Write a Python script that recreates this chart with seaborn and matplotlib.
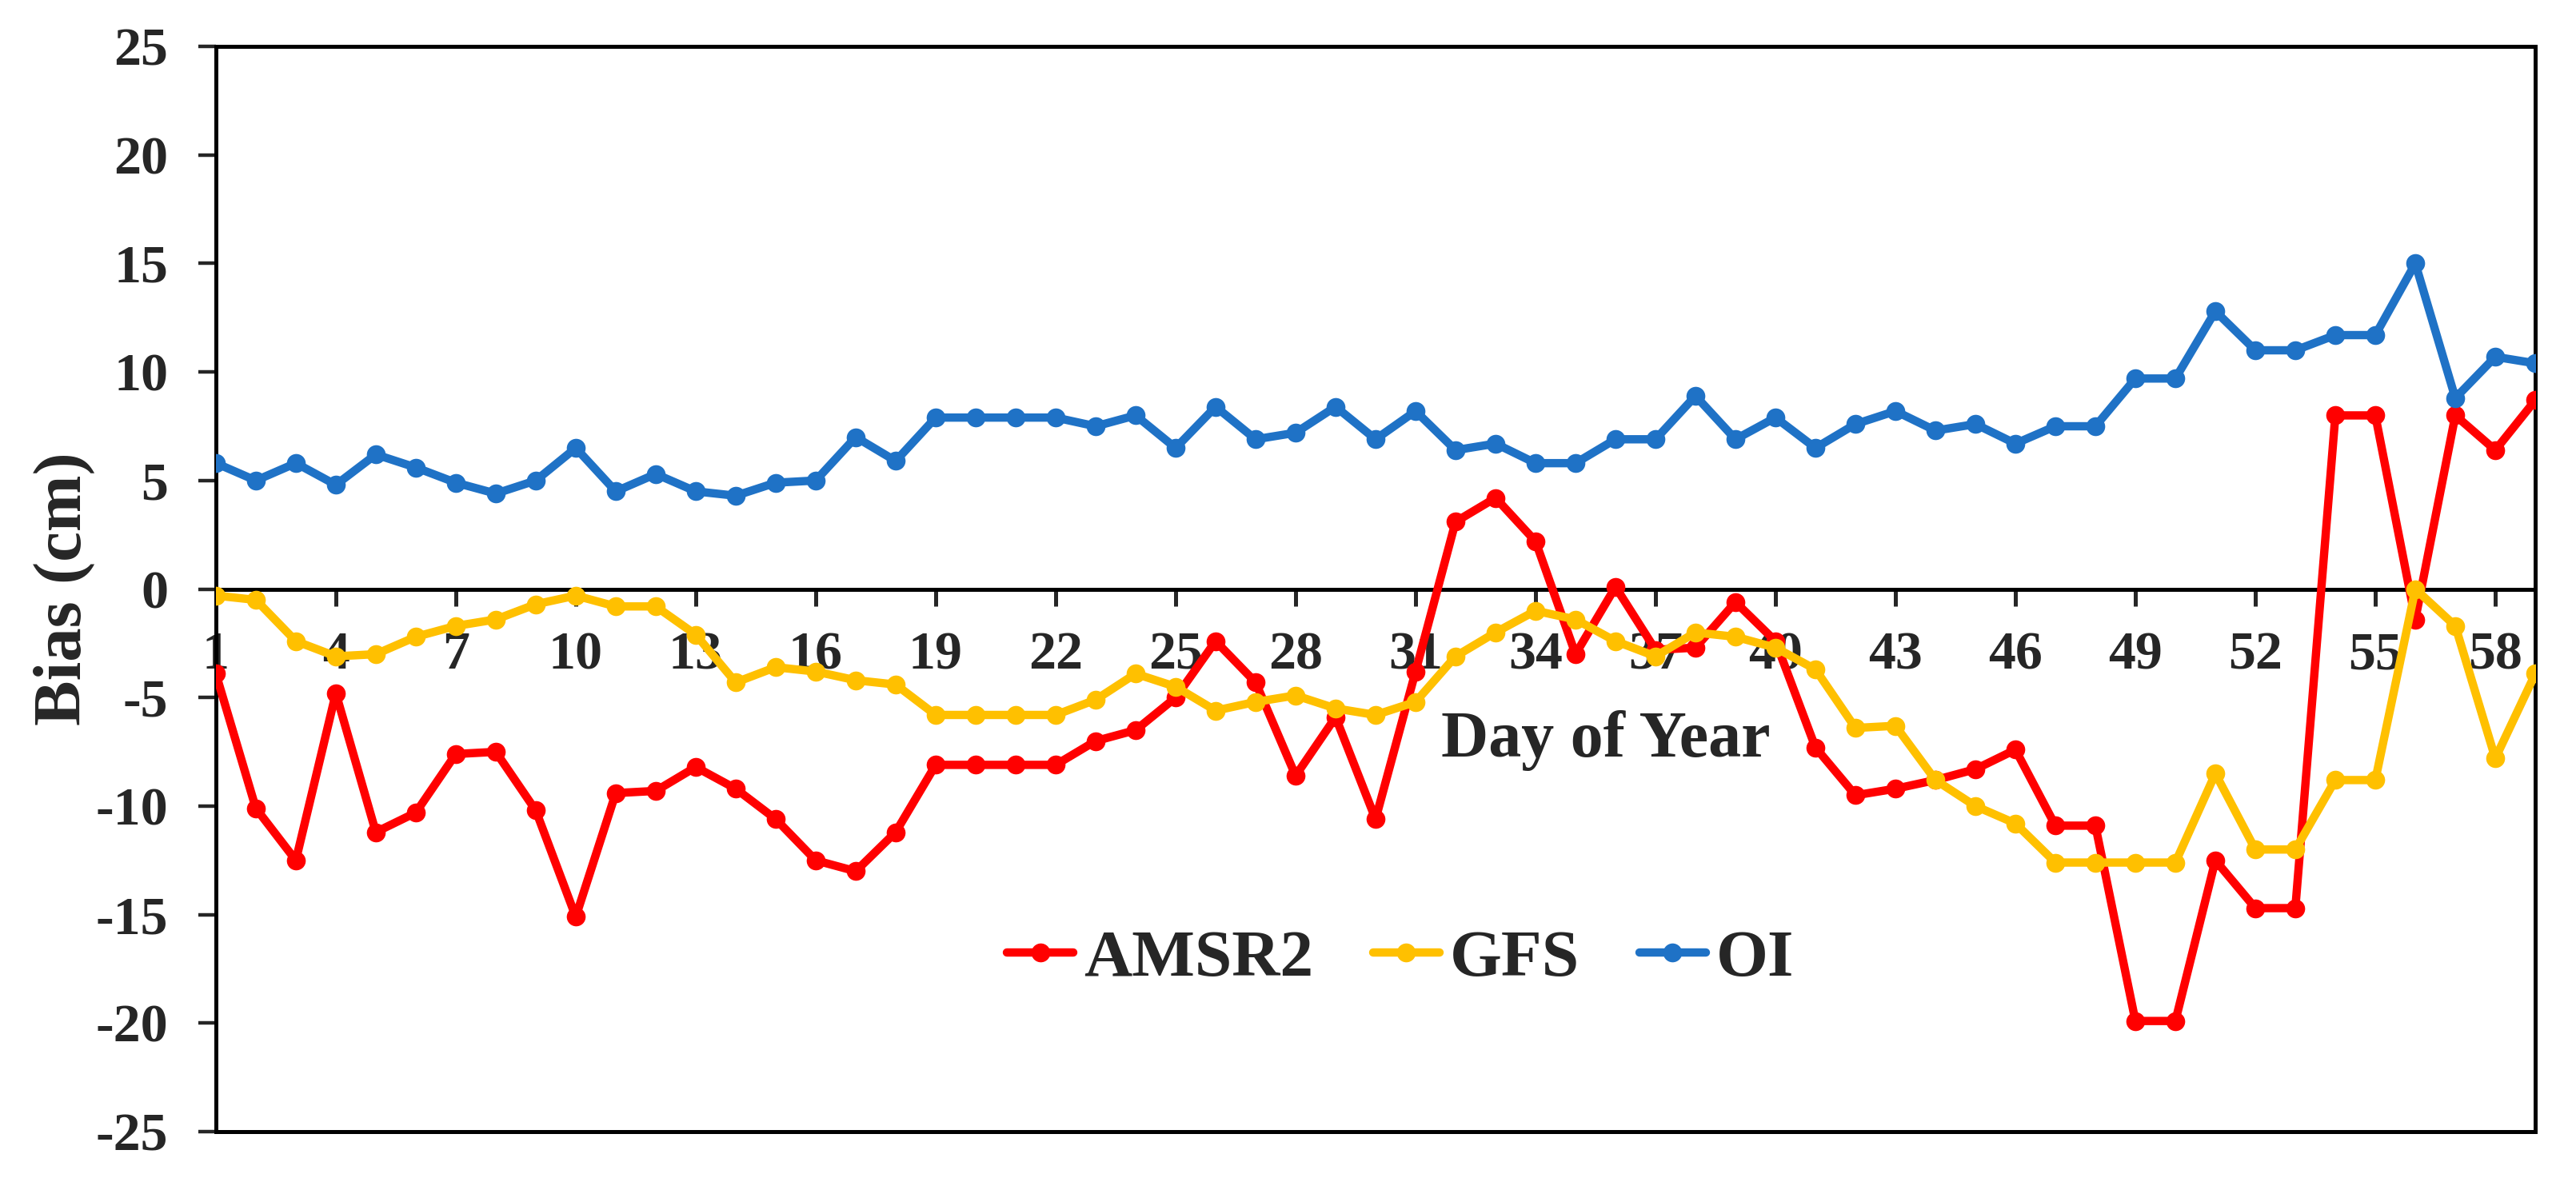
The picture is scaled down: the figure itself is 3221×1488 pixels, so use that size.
import numpy as np
import pandas as pd
import seaborn as sns
import matplotlib.pyplot as plt

# Bias per day of year
days = list(range(1, 60))

amsr2 = [-3.9, -10.1, -12.5, -4.8, -11.2, -10.3, -7.6, -7.5, -10.2, -15.1, -9.4, -9.3,
         -8.2, -9.2, -10.6, -12.5, -13.0, -11.2, -8.1, -8.1, -8.1, -8.1, -7.0, -6.5,
         -5.0, -2.4, -4.3, -8.6, -5.9, -10.6, -3.8, 3.1, 4.2, 2.2, -3.0, 0.1,
         -2.8, -2.7, -0.6, -2.4, -7.3, -9.5, -9.2, -8.8, -8.3, -7.4, -10.9, -10.9,
         -19.9, -19.9, -12.5, -14.7, -14.7, 8.0, 8.0, -1.4, 8.0, 6.4, 8.7]

gfs = [-0.3, -0.5, -2.4, -3.1, -3.0, -2.2, -1.7, -1.4, -0.7, -0.3, -0.8, -0.8,
       -2.1, -4.3, -3.6, -3.8, -4.2, -4.4, -5.8, -5.8, -5.8, -5.8, -5.1, -3.9,
       -4.5, -5.6, -5.2, -4.9, -5.5, -5.8, -5.2, -3.1, -2.0, -1.0, -1.4, -2.4,
       -3.1, -2.0, -2.2, -2.7, -3.7, -6.4, -6.3, -8.8, -10.0, -10.8, -12.6, -12.6,
       -12.6, -12.6, -8.5, -12.0, -12.0, -8.8, -8.8, 0.0, -1.7, -7.8, -3.9]

oi = [5.8, 5.0, 5.8, 4.8, 6.2, 5.6, 4.9, 4.4, 5.0, 6.5, 4.5, 5.3,
      4.5, 4.3, 4.9, 5.0, 7.0, 5.9, 7.9, 7.9, 7.9, 7.9, 7.5, 8.0,
      6.5, 8.4, 6.9, 7.2, 8.4, 6.9, 8.2, 6.4, 6.7, 5.8, 5.8, 6.9,
      6.9, 8.9, 6.9, 7.9, 6.5, 7.6, 8.2, 7.3, 7.6, 6.7, 7.5, 7.5,
      9.7, 9.7, 12.8, 11.0, 11.0, 11.7, 11.7, 15.0, 8.8, 10.7, 10.4]

series_names = ['AMSR2', 'GFS', 'OI']
series_colors = ['#FF0000', '#FFC000', '#1F72C6']
xtick_days = list(range(1, 59, 3))

sns.set_style('white')
plt.rcParams['font.family'] = ['Liberation Serif', 'DejaVu Serif']
plt.rcParams['font.weight'] = 'bold'
plt.rcParams['axes.unicode_minus'] = False

fig = plt.figure(figsize=(32.21, 14.88), dpi=100)
ax = fig.add_axes([0.0838, 0.049, 0.9004, 0.912])

for name, vals, col in zip(series_names, [amsr2, gfs, oi], series_colors):
    df = pd.DataFrame({'day': days, 'bias': vals})
    sns.lineplot(data=df, x='day', y='bias', ax=ax, color=col, label=name,
                 marker='o', markersize=17, markeredgewidth=0, linewidth=7.5,
                 zorder=3)

ax.set_xlim(1, 59)
ax.set_ylim(-25, 25)
ax.set_yticks(np.arange(-25, 26, 5))
ax.set_xticks(xtick_days)
ax.set_xticklabels([str(d) for d in xtick_days])

# x axis sits on the zero line, box kept around the plot
ax.spines['bottom'].set_position(('data', 0))
for s in ax.spines.values():
    s.set_linewidth(3.6)
    s.set_color('black')
    s.set_visible(True)
ax.axhline(-25, color='black', linewidth=3.6, clip_on=False)

ax.tick_params(axis='y', direction='out', length=16, width=3.2, pad=27,
               labelsize=49, left=True)
ax.tick_params(axis='x', direction='out', length=15, width=3.6, pad=23,
               labelsize=49, bottom=True)
for lab in ax.get_xticklabels() + ax.get_yticklabels():
    lab.set_fontweight('bold')

ax.set_xlabel('')
ax.set_ylabel('Bias (cm)', fontsize=61, fontweight='bold')
ax.yaxis.set_label_coords(-0.052, 0.5)

fig.text(0.6234, 0.378, 'Day of Year', fontsize=59, fontweight='bold',
         ha='center', va='center')

ax.legend(loc='center', bbox_to_anchor=(0.5436, 0.1935),
          bbox_transform=fig.transFigure, ncol=3, frameon=False,
          prop={'size': 60, 'weight': 'bold'}, handlelength=1.0,
          handletextpad=0.15, columnspacing=0.9)

fig.savefig('out.png', dpi=100)
